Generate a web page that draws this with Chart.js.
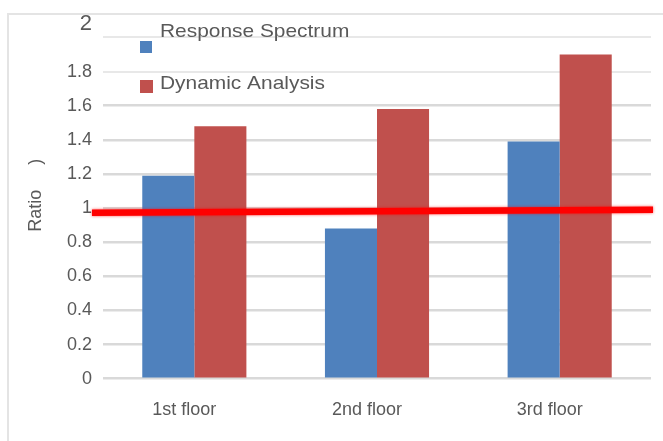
<!DOCTYPE html>
<html><head><meta charset="utf-8">
<script src="https://cdn.jsdelivr.net/npm/chart.js@4.4.1/dist/chart.umd.min.js"></script>
<style>
html,body{margin:0;padding:0;background:#fff;}
#wrap{position:relative;width:663px;height:441px;overflow:hidden;}
#frame{position:absolute;left:7px;top:13px;width:700px;height:500px;border-left:2px solid #e4e4e4;border-top:2px solid #e4e4e4;}
canvas{position:absolute;left:0;top:0;}
</style></head><body>
<div id="wrap"><div id="frame"></div><canvas id="c" width="663" height="441"></canvas></div>
<script>
const categories = ['1st floor', '2nd floor', '3rd floor'];
const seriesNames = ['Response Spectrum', 'Dynamic Analysis'];
const responseSpectrum = [1.19, 0.88, 1.39];
const dynamicAnalysis = [1.48, 1.58, 1.9];
const yTicks = [0, 0.2, 0.4, 0.6, 0.8, 1, 1.2, 1.4, 1.6, 1.8, 2];
const refLine = [0.973, 0.99];
const yTitle = '      Ratio     )';

const FONT = '"Liberation Sans", Arial, sans-serif';
const GRAY = '#595959';

const refLinePlugin = {
  id: 'refLine',
  afterDraw(chart) {
    const ctx = chart.ctx, y = chart.scales.y, a = chart.chartArea;
    ctx.save();
    ctx.strokeStyle = '#ff0000';
    ctx.lineWidth = 6.5;
    ctx.shadowColor = 'rgba(255,0,0,0.7)';
    ctx.shadowBlur = 3;
    ctx.beginPath();
    ctx.moveTo(a.left - 11, y.getPixelForValue(refLine[0]));
    ctx.lineTo(a.right + 2, y.getPixelForValue(refLine[1]));
    ctx.stroke();
    ctx.restore();
  }
};

const legendPlugin = {
  id: 'customLegend',
  afterDraw(chart, args, opts) {
    const ctx = chart.ctx;
    chart.data.datasets.forEach((ds, i) => {
      const it = opts.items[i];
      ctx.save();
      ctx.fillStyle = ds.backgroundColor;
      ctx.fillRect(it.box[0], it.box[1], it.box[2], it.box[2]);
      ctx.fillStyle = GRAY;
      ctx.font = '19px ' + FONT;
      ctx.textBaseline = 'middle';
      ctx.textAlign = 'left';
      ctx.translate(it.text[0], it.text[1]);
      ctx.scale(1.1, 1);
      ctx.fillText(ds.label, 0, 0);
      ctx.restore();
    });
  }
};

new Chart(document.getElementById('c'), {
  type: 'bar',
  data: {
    labels: categories,
    datasets: [
      { label: seriesNames[0], data: responseSpectrum, backgroundColor: '#4f81bd', barPercentage: 1, categoryPercentage: 0.57 },
      { label: seriesNames[1], data: dynamicAnalysis, backgroundColor: '#c0504d', barPercentage: 1, categoryPercentage: 0.57 }
    ]
  },
  options: {
    responsive: false,
    animation: false,
    devicePixelRatio: 1,
    layout: { padding: { left: 0, right: 12, top: 33, bottom: 0 } },
    plugins: {
      legend: { display: false },
      tooltip: { enabled: false },
      customLegend: { items: [ { box: [140, 41, 12], text: [160, 32] }, { box: [140, 80, 13], text: [160, 84] } ] }
    },
    scales: {
      x: {
        grid: { display: false, drawTicks: false },
        border: { display: false },
        ticks: { padding: 16, labelOffset: -10, color: GRAY, font: { family: FONT, size: 18 } },
        afterFit(s) { s.height = 58; }
      },
      y: {
        min: -0.025, max: 2, z: 1,
        afterBuildTicks(s) { s.ticks = yTicks.map(v => ({ value: v })); },
        grid: {
          drawTicks: false,
          color: ctx => (ctx.tick && ctx.tick.value >= 1.8) ? '#e8e8e8' : '#d9d9d9',
          lineWidth: ctx => (ctx.tick && ctx.tick.value >= 1.8) ? 2 : 2.5
        },
        border: { display: false },
        ticks: {
          autoSkip: false,
          padding: 11, color: GRAY,
          font: ctx => ({ family: FONT, size: (ctx.tick && ctx.tick.value === 2) ? 22 : 18 }),
          callback: v => v === 2 ? ['2', ''] : String(Math.round(v * 10) / 10)
        },
        title: { display: true, text: yTitle, color: GRAY, font: { family: FONT, size: 18 }, padding: { top: 25, bottom: 0 } },
        afterFit(s) { s.width = 103; }
      }
    }
  },
  plugins: [refLinePlugin, legendPlugin]
});
</script>
</body></html>
